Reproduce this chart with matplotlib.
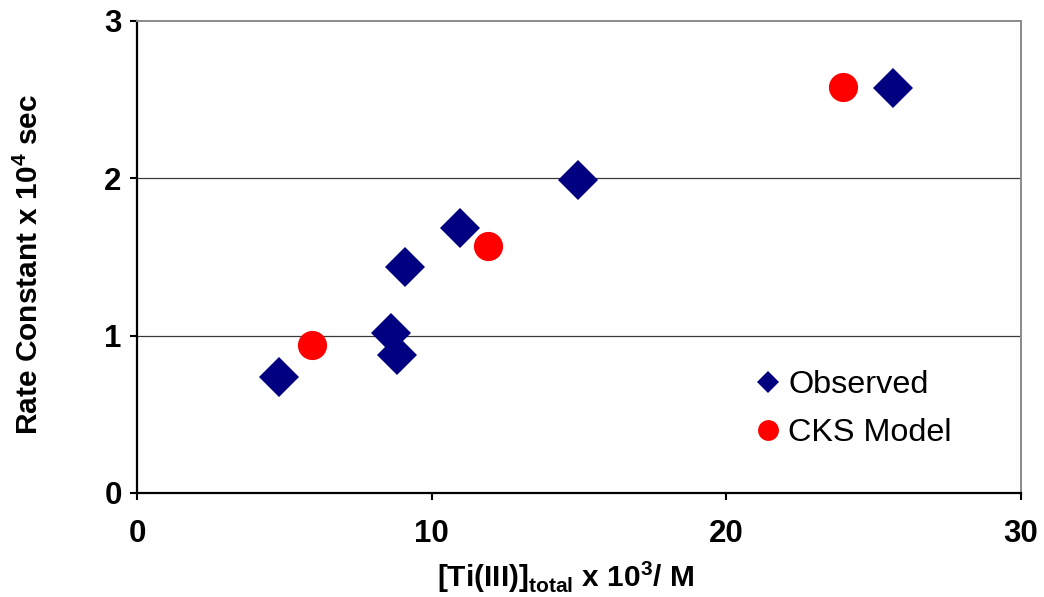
import matplotlib
matplotlib.use("Agg")
import matplotlib.pyplot as plt
from matplotlib.lines import Line2D

plt.rcParams['font.family'] = ['Liberation Sans', 'DejaVu Sans']
plt.rcParams['mathtext.fontset'] = 'custom'
plt.rcParams['mathtext.rm'] = 'Liberation Sans'
plt.rcParams['mathtext.bf'] = 'Liberation Sans:bold'

# Data
obs_x = [4.82, 8.62, 8.82, 9.09, 10.96, 14.96, 25.65]
obs_y = [0.737, 1.017, 0.877, 1.437, 1.685, 1.99, 2.575]
cks_x = [5.94, 11.91, 23.96]
cks_y = [0.941, 1.570, 2.58]
xticks = [0, 10, 20, 30]
yticks = [0, 1, 2, 3]

fig = plt.figure(figsize=(10.44, 5.97), dpi=100)
ax = fig.add_axes([137/1044, 1-493/597, (1021-137)/1044, (493-21)/597])

ax.set_xlim(0, 30)
ax.set_ylim(0, 3)
ax.set_xticks(xticks)
ax.set_yticks(yticks)

for y in [1, 2]:
    ax.axhline(y, color='#3a3a3a', lw=0.9, zorder=1)

ax.plot(obs_x, obs_y, linestyle='none', marker='D', ms=20.4, color='#000080',
        markeredgewidth=0, zorder=3, clip_on=False)
ax.plot(cks_x, cks_y, linestyle='none', marker='o', ms=21, color='#FF0000',
        markeredgewidth=0, zorder=3, clip_on=False)

for s in ['left', 'bottom']:
    ax.spines[s].set_linewidth(1.6)
    ax.spines[s].set_color('black')
for s in ['top', 'right']:
    ax.spines[s].set_linewidth(1.4)
    ax.spines[s].set_color('#8a8a8a')

ax.tick_params(axis='both', direction='out', length=5, width=1.5, color='black',
               labelsize=22.5, pad=6)
ax.tick_params(axis='x', pad=14)
for lab in ax.get_xticklabels() + ax.get_yticklabels():
    lab.set_fontweight('bold')

ax.set_ylabel(r'Rate Constant x 10$^{\mathbf{4}}$ sec', fontsize=21.5, fontweight='bold')
ax.yaxis.set_label_coords(-137/884 + 29/884, (493-265)/472)
ax.set_xlabel(r'[Ti(III)]$_{\mathbf{total}}$ x 10$^{\mathbf{3}}$/ M', fontsize=21.5, fontweight='bold')
ax.xaxis.set_label_coords((566-137)/884, -(577-493)/472)
ax.xaxis.label.set_va('center')
ax.yaxis.label.set_va('center')

handles = [
    Line2D([], [], linestyle='none', marker='D', ms=10.7, color='#000080', markeredgewidth=0),
    Line2D([], [], linestyle='none', marker='o', ms=15, color='#FF0000', markeredgewidth=0),
]
ax.legend(handles, ['Observed', 'CKS Model'], loc='upper left', bbox_to_anchor=(0.681, 0.287),
          frameon=False, fontsize=23.3, handlelength=1.0, handletextpad=0.12, labelspacing=0.55,
          borderaxespad=0)

fig.savefig('out.png', dpi=100)
